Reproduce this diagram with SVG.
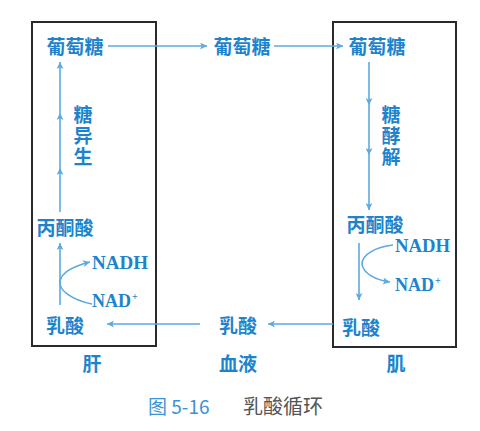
<svg xmlns="http://www.w3.org/2000/svg" width="480" height="431" viewBox="0 0 480 431">
<defs>
<style>
.t{font-family:"Noto Sans CJK SC","Noto Sans",sans-serif;font-weight:bold;font-size:19px;fill:#1d84cc;text-anchor:middle;dominant-baseline:central}
.v{font-family:"Noto Sans CJK SC","Noto Sans",sans-serif;font-weight:bold;font-size:19px;fill:#1d84cc;writing-mode:vertical-rl;letter-spacing:2px}
.n{font-family:"Liberation Serif",serif;font-weight:bold;font-size:18px;fill:#1d84cc;dominant-baseline:central}
.box{fill:none;stroke:#2a2a2a;stroke-width:2}
.a{fill:none;stroke:#5ea9de;stroke-width:1.6;marker-end:url(#ah)}
</style>
<marker id="ah" viewBox="0 0 10 10" refX="10" refY="5" markerWidth="9" markerHeight="7" markerUnits="userSpaceOnUse" orient="auto">
<path d="M0,0 L10,5 L0,10 L2.5,5 Z" fill="#5ea9de"/>
</marker>
</defs>
<rect width="480" height="431" fill="#fff"/>
<g id="liver-box"><rect class="box" x="32" y="22" width="124" height="324"/></g>
<g id="muscle-box"><rect class="box" x="333" y="22" width="123" height="325"/></g>
<g id="connectors">
<path class="a" d="M108,46 H207"/>
<path class="a" d="M274,46 H343"/>
<path class="a" d="M333,324 H268"/>
<path class="a" d="M200,324 H107"/>
<path class="a" d="M60,212 V168"/>
<path class="a" d="M60,168 V113"/>
<path class="a" d="M60,113 V62"/>
<path class="a" d="M60,305 V243"/>
<path class="a" d="M92,304 C72,300 58,290 60,281 C62,272 74,266 90,262"/>
<path class="a" d="M369,62 V105"/>
<path class="a" d="M369,105 V155"/>
<path class="a" d="M369,155 V210"/>
<path class="a" d="M359,243 V300"/>
<path class="a" d="M393,245 C375,247 362,255 362,264 C363,273 375,280 390,282"/>
</g>
<g id="glc-liver"><text class="t" x="75" y="45">葡萄糖</text></g>
<g id="glc-blood"><text class="t" x="242" y="45">葡萄糖</text></g>
<g id="glc-muscle"><text class="t" x="377" y="45">葡萄糖</text></g>
<g id="gluconeogenesis"><text class="v" x="83" y="105">糖异生</text></g>
<g id="glycolysis"><text class="v" x="391" y="105">糖酵解</text></g>
<g id="pyr-liver"><text class="t" x="65" y="226">丙酮酸</text></g>
<g id="pyr-muscle"><text class="t" x="375" y="223">丙酮酸</text></g>
<g id="nadh-liver"><text class="n" x="92" y="263" textLength="56" lengthAdjust="spacingAndGlyphs">NADH</text></g>
<g id="nad-liver"><text class="n" x="92" y="301" font-size="16.5">NAD<tspan font-size="10" dx="1" dy="-5">+</tspan></text></g>
<g id="nadh-muscle"><text class="n" x="395" y="246" textLength="55" lengthAdjust="spacingAndGlyphs">NADH</text></g>
<g id="nad-muscle"><text class="n" x="395" y="285" font-size="16.5">NAD<tspan font-size="10" dx="1" dy="-5">+</tspan></text></g>
<g id="lac-liver"><text class="t" x="65" y="324">乳酸</text></g>
<g id="lac-blood"><text class="t" x="238" y="324">乳酸</text></g>
<g id="lac-muscle"><text class="t" x="361" y="326">乳酸</text></g>
<g id="label-liver"><text class="t" x="92" y="362">肝</text></g>
<g id="label-blood"><text class="t" x="238" y="362">血液</text></g>
<g id="label-muscle"><text class="t" x="396" y="362">肌</text></g>
<g id="caption">
<text x="148" y="405" font-family="Noto Sans CJK SC,sans-serif" font-size="19" fill="#3b92d4" dominant-baseline="central">图 5-16</text>
<text x="243" y="405" font-family="Noto Sans CJK SC,sans-serif" font-size="20" fill="#555" dominant-baseline="central">乳酸循环</text>
</g>
</svg>
